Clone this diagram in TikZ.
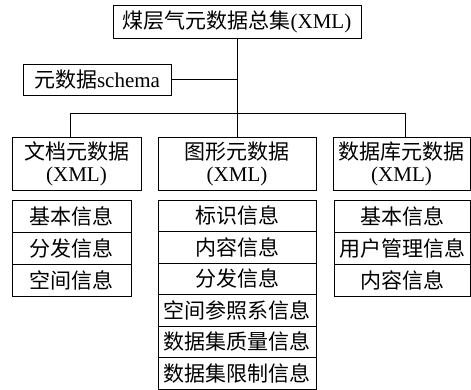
\documentclass[tikz,border=0pt]{standalone}
\usepackage{fontspec}
\setmainfont{Liberation Serif}
\newfontfamily\cjk{Noto Sans CJK SC}
\begin{document}
\begin{tikzpicture}[x=1pt,y=-1pt,
  box/.style={draw,line width=0.8pt,inner sep=0pt,font=\fontsize{21}{22}\selectfont,align=center},
  conn/.style={line width=0.6pt}]
\useasboundingbox (0,0) rectangle (471,390);
% top
\node[box,minimum width=248pt,minimum height=33pt] (top) at (237,21.5) {{\cjk 煤层气元数据总集}(XML)};
\node[box,minimum width=148pt,minimum height=31pt] (schema) at (97,79.5) {{\cjk 元数据}schema};
% level 2
\node[box,minimum width=129pt,minimum height=53pt] (doc) at (76.5,163.5) {{\cjk 文档元数据}\\(XML)};
\node[box,minimum width=158pt,minimum height=53pt] (gra) at (237,163.5) {{\cjk 图形元数据}\\(XML)};
\node[box,minimum width=137pt,minimum height=53pt] (dbm) at (401.5,163.5) {{\cjk 数据库元数据}\\(XML)};
% connectors
\coordinate (bl) at (70,113);
\coordinate (bm) at (237,113);
\coordinate (br) at (405,113);
\draw[conn] (top.south) -- (gra.north);
\draw[conn] (schema.east) -- (schema.east -| top.south);
\draw[conn] (bl) -- (br);
\draw[conn] (bl) -- (bl |- doc.north);
\draw[conn] (br) -- (br |- dbm.north);
% level 3
\tikzset{lc/.style={box,minimum width=119pt,minimum height=32pt},
         mc/.style={box,minimum width=158pt,minimum height=31.5pt},
         rc/.style={box,minimum width=136pt,minimum height=32pt}}
\node[lc] (l1) at (71.5,216) {\cjk 基本信息};
\node[lc] (l2) at (71.5,248) {\cjk 分发信息};
\node[lc] (l3) at (71.5,280) {\cjk 空间信息};
% middle
\node[mc] (m1) at (237,215.75) {\cjk 标识信息};
\node[mc] (m2) at (237,247.25) {\cjk 内容信息};
\node[mc] (m3) at (237,278.75) {\cjk 分发信息};
\node[mc] (m4) at (237,310.25) {\cjk 空间参照系信息};
\node[mc] (m5) at (237,341.75) {\cjk 数据集质量信息};
\node[mc] (m6) at (237,373.25) {\cjk 数据集限制信息};
% right
\node[rc] (r1) at (402,216) {\cjk 基本信息};
\node[rc] (r2) at (402,248) {\cjk 用户管理信息};
\node[rc] (r3) at (402,280) {\cjk 内容信息};
\end{tikzpicture}
\end{document}
